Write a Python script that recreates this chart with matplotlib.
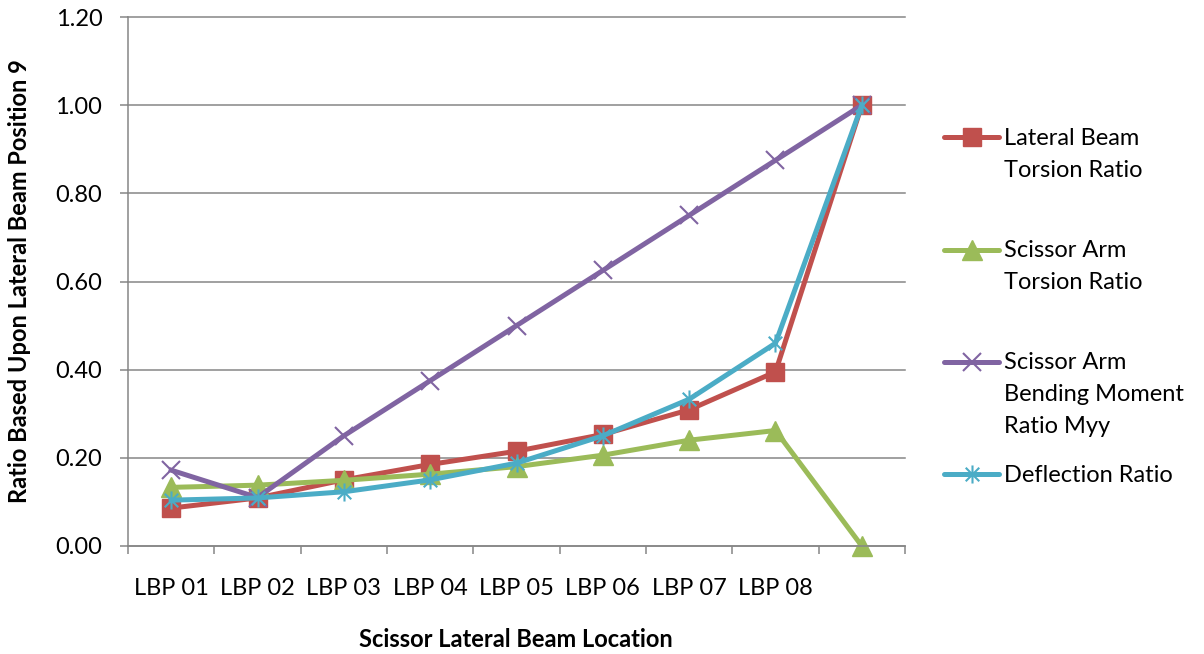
import numpy as np
import matplotlib.pyplot as plt
from matplotlib.lines import Line2D
from matplotlib.path import Path

plt.rcParams['font.family'] = ['Lato', 'DejaVu Sans']

# chart values
categories = ['LBP 01', 'LBP 02', 'LBP 03', 'LBP 04', 'LBP 05',
              'LBP 06', 'LBP 07', 'LBP 08', '']
lateral_torsion = [0.086, 0.109, 0.150, 0.185, 0.215, 0.253, 0.309, 0.395, 1.00]
arm_torsion = [0.133, 0.138, 0.149, 0.163, 0.180, 0.206, 0.240, 0.262, 0.00]
arm_bending = [0.172, 0.110, 0.250, 0.375, 0.500, 0.625, 0.750, 0.875, 1.00]
deflection = [0.104, 0.109, 0.123, 0.150, 0.188, 0.250, 0.333, 0.460, 1.00]

legend_lines = [['Lateral Beam', 'Torsion Ratio'],
                ['Scissor Arm', 'Torsion Ratio'],
                ['Scissor Arm', 'Bending Moment', 'Ratio Myy'],
                ['Deflection Ratio']]

RED = '#C0504D'
GREEN = '#9BBB59'
PURPLE = '#8064A2'
AQUA = '#4BACC6'
GREY = '#868686'

# Excel style star: x with a vertical bar
star = Path([(0, -1), (0, 1), (-0.75, -0.75), (0.75, 0.75), (-0.75, 0.75), (0.75, -0.75)],
            [Path.MOVETO, Path.LINETO, Path.MOVETO, Path.LINETO, Path.MOVETO, Path.LINETO])

W, H = 1204, 654
fig = plt.figure(figsize=(W / 100, H / 100), dpi=100)


def fx(px):
    return px / W


def fy(py):
    return 1 - py / H


ax = fig.add_axes([fx(128), fy(546), fx(905) - fx(128), fy(17) - fy(546)])

x = np.arange(len(categories))
styles = [
    (lateral_torsion, RED, dict(marker='s', markersize=13, markerfacecolor=RED, markeredgecolor=RED)),
    (arm_torsion, GREEN, dict(marker='^', markersize=14, markerfacecolor=GREEN, markeredgecolor=GREEN)),
    (arm_bending, PURPLE, dict(marker='x', markersize=13, markeredgewidth=1.5, markeredgecolor=PURPLE)),
    (deflection, AQUA, dict(marker=star, markersize=13, markeredgewidth=1.5,
                            markerfacecolor='none', markeredgecolor=AQUA)),
]
for vals, col, mk in styles:
    ax.plot(x, vals, color=col, lw=3.6, solid_joinstyle='round', clip_on=False, **mk)

ax.set_xlim(-0.5, len(categories) - 0.5)
ax.set_ylim(0, 1.2)

# category boundaries as tick marks, labels in the middle
ax.set_xticks(np.arange(-0.5, len(categories), 1))
ax.set_xticklabels([])
ax.set_xticks(x, minor=True)
ax.set_xticklabels(categories, minor=True, fontsize=17)
ax.tick_params(axis='x', which='major', length=5.5, width=1.1, color=GREY, direction='out')
ax.tick_params(axis='x', which='minor', length=0, pad=23)

yt = np.arange(0, 1.21, 0.2)
ax.set_yticks(yt)
ax.set_yticklabels(['%.2f' % v for v in yt], fontsize=17)
ax.tick_params(axis='y', length=5.5, width=1.1, color=GREY, direction='out', pad=13)

ax.grid(axis='y', color=GREY, lw=1.1)
ax.set_axisbelow(True)
for gl in ax.get_ygridlines():
    gl.set_clip_on(False)
for s in ['top', 'right']:
    ax.spines[s].set_visible(False)
for s in ['left', 'bottom']:
    ax.spines[s].set_color(GREY)
    ax.spines[s].set_linewidth(1.1)

fig.text(fx(516), fy(647), 'Scissor Lateral Beam Location', ha='center', va='baseline',
         fontsize=17, fontweight='bold')
fig.text(fx(20), fy(281), 'Ratio Based Upon Lateral Beam Position 9', ha='center', va='center',
         rotation=90, fontsize=17, fontweight='bold')

# legend drawn by hand so the handle sits on the first text line
handle_y = [137, 250, 362, 474]
first_base = [145, 257, 369, 482]
for (vals, col, mk), lines, hy, by in zip(styles, legend_lines, handle_y, first_base):
    h = Line2D([fx(944), fx(972), fx(999)], [fy(hy)] * 3, transform=fig.transFigure,
               color=col, lw=3.6, solid_capstyle='round', markevery=[1], **mk)
    fig.add_artist(h)
    for i, t in enumerate(lines):
        fig.text(fx(1004), fy(by + 32 * i), t, ha='left', va='baseline', fontsize=17)

fig.savefig('out.png', dpi=100)
